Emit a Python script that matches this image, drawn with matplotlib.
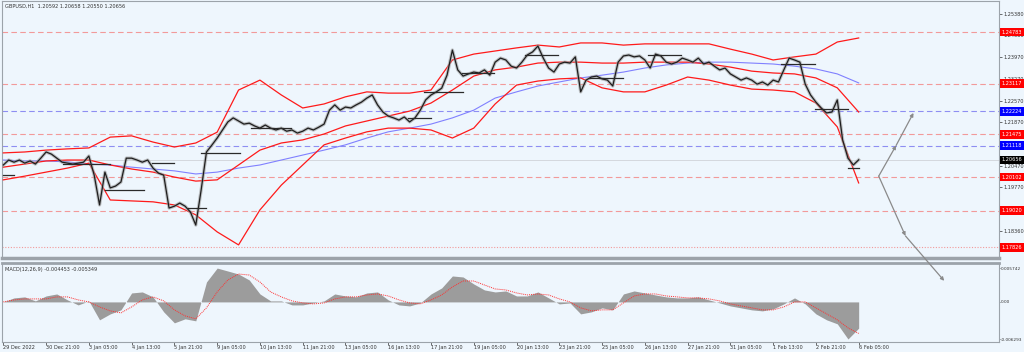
import numpy as np
import matplotlib
matplotlib.use("Agg")
import matplotlib.pyplot as plt
import matplotlib.transforms as mtransforms

# ---- data (GBPUSD H1) ----
# close, one value every 4 bars
close = [1.2049, 1.2065, 1.2058, 1.2065, 1.2055, 1.2062, 1.2052, 1.2071, 1.2091, 1.2084,
         1.2071, 1.2058, 1.2055, 1.2052, 1.2055, 1.2058, 1.2078, 1.2016, 1.1920, 1.2026,
         1.1975, 1.1981, 1.1994, 1.2071, 1.2071, 1.2065, 1.2058, 1.2065, 1.2039, 1.2023,
         1.2016, 1.1910, 1.1916, 1.1926, 1.1916, 1.1897, 1.1855, 1.1968, 1.2091, 1.2113,
         1.2136, 1.2162, 1.2188, 1.2201, 1.2191, 1.2181, 1.2184, 1.2175, 1.2168, 1.2178,
         1.2168, 1.2162, 1.2168, 1.2158, 1.2162, 1.2152, 1.2158, 1.2168, 1.2162, 1.2171,
         1.2181, 1.2226, 1.2243, 1.2226, 1.2236, 1.2233, 1.2243, 1.2252, 1.2265, 1.2275,
         1.2243, 1.2220, 1.2207, 1.2201, 1.2194, 1.2204, 1.2188, 1.2201, 1.2226, 1.2259,
         1.2275, 1.2285, 1.2297, 1.2339, 1.2420, 1.2356, 1.2336, 1.2343, 1.2349, 1.2346,
         1.2356, 1.2339, 1.2381, 1.2394, 1.2388, 1.2368, 1.2362, 1.2381, 1.2404, 1.2414,
         1.2433, 1.2394, 1.2362, 1.2349, 1.2375, 1.2381, 1.2378, 1.2398, 1.2285, 1.2323,
         1.2333, 1.2336, 1.2327, 1.2323, 1.2304, 1.2381, 1.2401, 1.2404, 1.2398, 1.2401,
         1.2388, 1.2362, 1.2407, 1.2401, 1.2381, 1.2375, 1.2381, 1.2394, 1.2388, 1.2381,
         1.2394, 1.2375, 1.2381, 1.2368, 1.2356, 1.2362, 1.2343, 1.2333, 1.2323, 1.2330,
         1.2323, 1.2310, 1.2317, 1.2307, 1.2323, 1.2317, 1.2356, 1.2394, 1.2388, 1.2381,
         1.2310, 1.2275, 1.2252, 1.2233, 1.2217, 1.2220, 1.2259, 1.2130, 1.2071, 1.2049,
         1.20656]

# bollinger bands + moving average, one value every 16 bars
bb_upper = [1.2088, 1.2091, 1.2097, 1.2101, 1.2104, 1.2139, 1.2143, 1.2123, 1.2107, 1.2120,
            1.2155, 1.2291, 1.2323, 1.2275, 1.2233, 1.2246, 1.2269, 1.2285, 1.2281, 1.2281,
            1.2291, 1.2388, 1.2407, 1.2417, 1.2427, 1.2436, 1.2430, 1.2443, 1.2443, 1.2436,
            1.2440, 1.2440, 1.2440, 1.2440, 1.2423, 1.2407, 1.2388, 1.2398, 1.2407, 1.2446,
            1.2459]
bb_mid = [1.2042, 1.2052, 1.2062, 1.2065, 1.2065, 1.2049, 1.2036, 1.2026, 1.2010, 1.1997,
          1.2001, 1.2049, 1.2097, 1.2120, 1.2130, 1.2149, 1.2175, 1.2191, 1.2207, 1.2223,
          1.2249, 1.2291, 1.2336, 1.2356, 1.2365, 1.2378, 1.2381, 1.2381, 1.2378, 1.2378,
          1.2381, 1.2381, 1.2381, 1.2375, 1.2365, 1.2352, 1.2346, 1.2343, 1.2330, 1.2298,
          1.2220]
bb_lower = [1.2001, 1.2013, 1.2026, 1.2039, 1.2055, 1.1936, 1.1933, 1.1930, 1.1920, 1.1888,
            1.1833, 1.1791, 1.1904, 1.1984, 1.2049, 1.2114, 1.2136, 1.2156, 1.2168, 1.2168,
            1.2162, 1.2136, 1.2168, 1.2246, 1.2307, 1.2320, 1.2327, 1.2330, 1.2298, 1.2285,
            1.2285, 1.2307, 1.2333, 1.2323, 1.2307, 1.2294, 1.2291, 1.2285, 1.2249, 1.2172,
            1.1991]
ma_blue = [1.2065, 1.2062, 1.2062, 1.2059, 1.2052, 1.2049, 1.2042, 1.2036, 1.2030, 1.2020,
           1.2026, 1.2039, 1.2049, 1.2065, 1.2081, 1.2097, 1.2114, 1.2136, 1.2156, 1.2168,
           1.2181, 1.2201, 1.2226, 1.2265, 1.2285, 1.2304, 1.2317, 1.2330, 1.2339, 1.2349,
           1.2362, 1.2372, 1.2378, 1.2381, 1.2381, 1.2378, 1.2375, 1.2368, 1.2359, 1.2343,
           1.2314]

# MACD main (histogram) and signal, one value every 8 bars
macd_main = [0, 0.00068, 0.00085, 0.00017, 0.00101, 0.00135, 0.00034, -0.00051, 0.00017, -0.00304,
             -0.00203, -0.00135, 0.00152, 0.00169, 0.00085, -0.00169, -0.00355, -0.00287, -0.00321, 0.00338,
             0.00574, 0.00524, 0.00473, 0.00372, 0.00135, 0.00017, 0.00017, -0.00051, -0.00051, -0.00017,
             0.00017, 0.00135, 0.00101, 0.00085, 0.00152, 0.00169, 0.00034, -0.00051, -0.00068, -0.00017,
             0.00135, 0.00237, 0.00440, 0.00423, 0.00304, 0.00203, 0.00169, 0.00186, 0.00101, 0.00101,
             0.00169, 0.00068, -0.00034, -0.00017, -0.00203, -0.00169, -0.00101, -0.00135, 0.00135, 0.00186,
             0.00152, 0.00118, 0.00085, 0.00068, 0.00068, 0.00085, 0.00034, -0.00017, -0.00068, -0.00101,
             -0.00135, -0.00152, -0.00118, -0.00034, 0.00068, -0.00034, -0.00203, -0.00304, -0.00372, -0.00629,
             -0.00445]
macd_signal = [0, 0.00034, 0.00051, 0.00051, 0.00051, 0.00085, 0.00085, 0.00034, 0, -0.00085,
               -0.00152, -0.00186, -0.00085, 0.00034, 0.00085, 0.00017, -0.00135, -0.00237, -0.00287, -0.00101,
               0.00169, 0.00372, 0.00473, 0.00456, 0.00338, 0.00169, 0.00085, 0.00017, -0.00017, -0.00034,
               -0.00017, 0.00051, 0.00085, 0.00085, 0.00118, 0.00135, 0.00101, 0.00034, -0.00017, -0.00034,
               0.00034, 0.00118, 0.00254, 0.00355, 0.00355, 0.00287, 0.00220, 0.00203, 0.00152, 0.00118,
               0.00135, 0.00118, 0.00051, 0, -0.00101, -0.00152, -0.00135, -0.00135, -0.00017, 0.00101,
               0.00135, 0.00135, 0.00101, 0.00085, 0.00068, 0.00068, 0.00051, 0.00017, -0.00034, -0.00068,
               -0.00101, -0.00135, -0.00135, -0.00085, 0, 0, -0.00101, -0.00203, -0.00304, -0.00440,
               -0.00535]

# short horizontal black lines: (first bar, last bar, price)
day_lines = [(0, 8, 1.2017), (45, 80, 1.2052), (76, 105, 1.1968), (111, 128, 1.2055),
             (138, 152, 1.1910), (148, 177, 1.2088), (185, 215, 1.2168), (303, 320, 1.2201),
             (315, 344, 1.2285), (343, 367, 1.2346), (390, 415, 1.2404), (438, 464, 1.2330),
             (482, 507, 1.2404), (582, 607, 1.2375), (607, 632, 1.2230), (632, 640, 1.2039)]

red_levels = [1.24783, 1.23117, 1.21475, 1.20102, 1.19020]
blue_levels = [1.22224, 1.21118]
bottom_level = 1.17826
last_price = 1.20656

# scenario arrows (bar, price)
arrow_up = [(655, 1.2013), (668, 1.2112), (681, 1.2217)]
arrow_down = [(655, 1.2013), (675, 1.1820), (704, 1.1675)]

price_ticks = [1.25380, 1.24680, 1.23970, 1.23270, 1.22570, 1.21870, 1.21170,
               1.20470, 1.19770, 1.19070, 1.18360]
date_labels = ["29 Dec 2022", "30 Dec 21:00", "3 Jan 05:00", "4 Jan 13:00", "5 Jan 21:00",
               "9 Jan 05:00", "10 Jan 13:00", "11 Jan 21:00", "13 Jan 05:00", "16 Jan 13:00",
               "17 Jan 21:00", "19 Jan 05:00", "20 Jan 13:00", "23 Jan 21:00", "25 Jan 05:00",
               "26 Jan 13:00", "27 Jan 21:00", "31 Jan 05:00", "1 Feb 13:00", "2 Feb 21:00",
               "6 Feb 05:00"]

# ---- figure ----
bg = '#eef6fd'
edge = '#9ca3aa'
fs = 3.6
fig = plt.figure(figsize=(10.24, 3.52), dpi=100, facecolor=bg)
ax = fig.add_axes([2/1024, 1-258/352, 997/1024, 257/352], facecolor=bg)
am = fig.add_axes([2/1024, 1-342/352, 997/1024, 79/352], facecolor=bg, sharex=ax)
ax.set_zorder(3)

xc = np.arange(len(close)) * 4
xb = np.arange(len(bb_mid)) * 16
xm = np.arange(len(macd_main)) * 8

for lv in red_levels:
    ax.axhline(lv, color='#f29a9a', lw=0.8, dashes=(5, 3), zorder=1)
for lv in blue_levels:
    ax.axhline(lv, color='#8e8ef2', lw=0.8, dashes=(5, 3), zorder=1)
ax.axhline(bottom_level, color='#f29a9a', lw=0.8, ls=(0, (1, 1.5)), zorder=1)
ax.axhline(last_price, color='#cfd3d8', lw=0.6, zorder=1)

ax.plot(xb, ma_blue, color='#8080ff', lw=0.8, zorder=2)
for band in (bb_upper, bb_mid, bb_lower):
    ax.plot(xb, band, color='#ff1a1a', lw=0.9, zorder=3)

ax.plot(xc, close, color='#9a9a9a', lw=2.4, alpha=0.6, zorder=4)
ax.plot(xc, close, color='#1e1e1e', lw=0.9, zorder=5)
for b0, b1, p in day_lines:
    ax.plot([b0, b1], [p, p], color='#2a2a2a', lw=0.9, zorder=5)

for path in (arrow_up, arrow_down):
    for (x0, y0), (x1, y1) in zip(path[:-1], path[1:]):
        ax.annotate('', xy=(x1, y1), xytext=(x0, y0), annotation_clip=False,
                    arrowprops=dict(arrowstyle='-|>', color='#8a8a8a', lw=0.9,
                                    mutation_scale=5, shrinkA=0, shrinkB=0))

ax.set_xlim(-1, 745)
ax.set_ylim(1.17487, 1.25784)
ax.yaxis.tick_right()
ax.set_yticks(price_ticks)
ax.set_yticklabels([f"{t:.5f}" for t in price_ticks])
ax.tick_params(axis='y', labelsize=fs, length=2, width=0.5, pad=1, colors='#333333')
ax.tick_params(axis='x', length=0, labelbottom=False)

trans = mtransforms.blended_transform_factory(ax.transAxes, ax.transData)
tags = [(lv, '#ff0000') for lv in red_levels] + [(lv, '#0000ff') for lv in blue_levels]
tags += [(bottom_level, '#ff0000'), (last_price, '#000000')]
for lv, col in tags:
    ax.text(1.0025, lv, f"{lv:.5f}", transform=trans, fontsize=fs, color='white',
            ha='left', va='center', clip_on=False, zorder=10,
            bbox=dict(boxstyle='square,pad=0.35', fc=col, ec='none'))

ax.text(0.003, 0.988, "GBPUSD,H1  1.20592 1.20658 1.20550 1.20656", transform=ax.transAxes,
        fontsize=fs, color='#333333', ha='left', va='top')

for s in ax.spines.values():
    s.set_color(edge)
    s.set_linewidth(0.8)
ax.spines['bottom'].set_linewidth(2.5)

# ---- MACD panel ----
am.fill_between(xm, 0, macd_main, color='#9c9c9c', lw=0, zorder=2)
am.plot(xm, macd_signal, color='#ff3030', lw=0.7, ls=(0, (1, 1)), zorder=3)
am.set_ylim(-0.0068, 0.0066)
am.yaxis.tick_right()
am.set_yticks([0.005742, 0.0, -0.006293])
am.set_yticklabels(['0.005742', '0.00', '-0.006293'])
am.tick_params(axis='y', labelsize=3.1, length=1, width=0.5, pad=0.5, colors='#333333')
am.set_xticks(np.arange(len(date_labels)) * 32)
am.set_xticklabels(date_labels, ha='left')
am.tick_params(axis='x', labelsize=fs, length=2, width=0.5, pad=0.5, colors='#333333')
am.text(0.003, 0.95, "MACD(12,26,9) -0.004453 -0.005349", transform=am.transAxes,
        fontsize=fs, color='#333333', ha='left', va='top')
for s in am.spines.values():
    s.set_color(edge)
    s.set_linewidth(0.8)
am.spines['top'].set_linewidth(2.0)

fig.savefig("out.png", dpi=100, facecolor=bg)
